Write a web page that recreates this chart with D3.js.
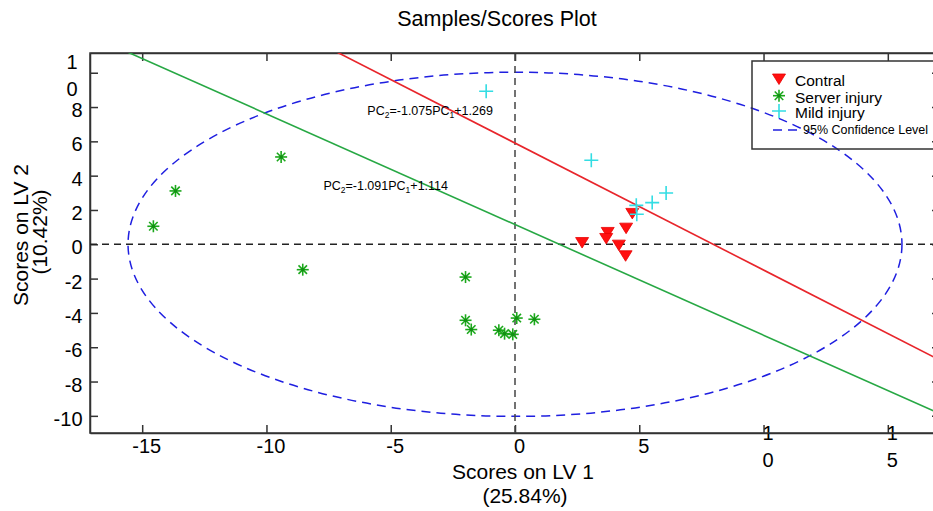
<!DOCTYPE html>
<html>
<head>
<meta charset="utf-8">
<script src="https://cdn.jsdelivr.net/npm/d3@7"></script>
<style>
  body { margin: 0; background: #fff; }
  text { font-family: "Liberation Sans", Arial, sans-serif; }
</style>
</head>
<body>
<div id="graph"></div>
<script>
// scores
var contralX = [2.70, 3.73, 3.67, 4.18, 4.45, 4.47, 4.72];
var contralY = [0.13, 0.72, 0.37, -0.02, -0.64, 0.97, 1.83];
var serverX = [-9.41, -13.66, -14.55, -8.54, -1.99, -1.99, -1.76, -0.65, -0.42, -0.09, 0.07, 0.78];
var serverY = [5.09, 3.11, 1.05, -1.48, -1.91, -4.43, -4.97, -5.01, -5.21, -5.25, -4.30, -4.37];
var mildX = [-1.16, 3.07, 4.88, 4.90, 5.52, 6.08];
var mildY = [8.92, 4.90, 2.27, 1.75, 2.43, 2.99];

var seriesNames = ["Contral", "Server injury", "Mild injury", "95% Confidence Level"];

// the two drawn regression lines (as they appear on the plot)
var lineSlopes = [-0.740, -0.645];
var lineIntercepts = [5.90, 1.15];
var lineLabels = [["PC", "2", "=-1.075PC", "1", "+1.269"], ["PC", "2", "=-1.091PC", "1", "+1.114"]];

// 95% ellipse
var ellipseCenter = [0, 0];
var ellipseRadii = [15.57, 10.03];

var xTickValues = [-15, -10, -5, 0, 5, 10, 15];
var xTickLabels = ["-15", "-10", "-5", "0", "5", "1\n0", "1\n5"];
var yTickValues = [-10, -8, -6, -4, -2, 0, 2, 4, 6, 8, 10];
var yTickLabels = ["-10", "-8", "-6", "-4", "-2", "0", "2", "4", "6", "8", "1\n0"];

var W = 933, H = 511;
var pLeft = 90, pRight = 940, pTop = 53, pBottom = 433;
var axisColor = "#333";

var x = d3.scaleLinear().domain([-17.1, 17.1]).range([pLeft, pRight]);
var y = d3.scaleLinear().domain([-11.0, 11.15]).range([pBottom, pTop]);

var svg = d3.select("#graph").append("svg")
  .attr("width", W)
  .attr("height", H);

svg.append("defs").append("clipPath").attr("id", "clip")
  .append("rect")
  .attr("x", pLeft).attr("y", pTop)
  .attr("width", pRight - pLeft).attr("height", pBottom - pTop);

// title
svg.append("text")
  .attr("x", 497).attr("y", 26)
  .attr("text-anchor", "middle")
  .attr("font-size", 21.5)
  .text("Samples/Scores Plot");

// axes
var gx = svg.append("g")
  .attr("transform", "translate(0," + pBottom + ")")
  .call(d3.axisBottom(x).tickValues(xTickValues).tickSize(-8).tickPadding(6).tickSizeOuter(0));
gx.selectAll(".tick text").each(function(d, i) {
  var t = d3.select(this), lines = xTickLabels[i].split("\n");
  t.text(null).attr("dy", null).attr("y", null).attr("font-size", 20).attr("fill", "#000");
  lines.forEach(function(s, k) {
    t.append("tspan").attr("x", 4).attr("y", 20 + (k - (lines.length - 1) / 2) * 27).text(s);
  });
});

var gy = svg.append("g")
  .attr("transform", "translate(" + pLeft + ",0)")
  .call(d3.axisLeft(y).tickValues(yTickValues).tickSize(-8).tickSizeOuter(0));
gy.selectAll(".tick text").each(function(d, i) {
  var t = d3.select(this), lines = yTickLabels[i].split("\n");
  t.text(null).attr("dy", null).attr("x", null).attr("font-size", 20).attr("fill", "#000");
  if (lines.length > 1) t.attr("text-anchor", "middle");
  lines.forEach(function(s, k) {
    t.append("tspan")
      .attr("x", lines.length > 1 ? -18 : -7.5)
      .attr("y", 9.5 + (k - (lines.length - 1) / 2) * 27)
      .text(s);
  });
});

svg.append("g")
  .attr("transform", "translate(0," + pTop + ")")
  .call(d3.axisTop(x).tickValues(xTickValues).tickSize(-8).tickFormat("").tickSizeOuter(0));
svg.append("g")
  .attr("transform", "translate(" + pRight + ",0)")
  .call(d3.axisRight(y).tickValues(yTickValues).tickSize(-8).tickFormat("").tickSizeOuter(0));

svg.selectAll(".domain, .tick line")
  .attr("stroke", axisColor)
  .attr("stroke-width", 1.5);

svg.append("rect")
  .attr("x", pLeft).attr("y", pTop)
  .attr("width", pRight - pLeft).attr("height", pBottom - pTop)
  .attr("fill", "none")
  .attr("stroke", axisColor)
  .attr("stroke-width", 1.5);

// axis titles
svg.append("text")
  .attr("x", 523).attr("y", 479)
  .attr("text-anchor", "middle").attr("font-size", 21)
  .text("Scores on LV 1");
svg.append("text")
  .attr("x", 525).attr("y", 503)
  .attr("text-anchor", "middle").attr("font-size", 21)
  .text("(25.84%)");
svg.append("text")
  .attr("transform", "translate(28,235) rotate(-90)")
  .attr("text-anchor", "middle").attr("font-size", 21)
  .text("Scores on LV 2");
svg.append("text")
  .attr("transform", "translate(47,232) rotate(-90)")
  .attr("text-anchor", "middle").attr("font-size", 21)
  .text("(10.42%)");

var plot = svg.append("g").attr("clip-path", "url(#clip)");

// confidence ellipse
plot.append("ellipse")
  .attr("cx", x(ellipseCenter[0]))
  .attr("cy", y(ellipseCenter[1]))
  .attr("rx", x(ellipseRadii[0]) - x(0))
  .attr("ry", y(0) - y(ellipseRadii[1]))
  .attr("fill", "none")
  .attr("stroke", "#1f1fe0")
  .attr("stroke-width", 1.5)
  .attr("stroke-dasharray", "9,6");

// zero lines
plot.append("line")
  .attr("x1", x.range()[0]).attr("x2", x.range()[1])
  .attr("y1", y(0)).attr("y2", y(0))
  .attr("stroke", "#222").attr("stroke-width", 1.5).attr("stroke-dasharray", "7,5");
plot.append("line")
  .attr("x1", x(0)).attr("x2", x(0))
  .attr("y1", y.range()[0]).attr("y2", y.range()[1])
  .attr("stroke", "#444").attr("stroke-width", 1.5).attr("stroke-dasharray", "7,5");

// fitted lines
var lineColors = ["#e8252b", "#27a844"];
var xd = x.domain();
lineSlopes.forEach(function(m, i) {
  plot.append("line")
    .attr("x1", x(xd[0])).attr("y1", y(m * xd[0] + lineIntercepts[i]))
    .attr("x2", x(xd[1])).attr("y2", y(m * xd[1] + lineIntercepts[i]))
    .attr("stroke", lineColors[i])
    .attr("stroke-width", 1.6);
});

// equation labels
var labelPos = [[-5.94, 7.52], [-7.71, 3.19]];
lineLabels.forEach(function(parts, i) {
  var t = svg.append("text")
    .attr("x", x(labelPos[i][0])).attr("y", y(labelPos[i][1]))
    .attr("font-size", 12.5);
  parts.forEach(function(p, k) {
    var ts = t.append("tspan").text(p);
    if (k % 2 == 1) ts.attr("font-size", 8.5).attr("dy", 3);
    else if (k > 0) ts.attr("dy", -3);
  });
});

// markers
function triangle(g) {
  g.append("path").attr("d", "M-6.5,-4.5L6.5,-4.5L0,6Z")
    .attr("fill", "#ff1010").attr("stroke", "#e80000").attr("stroke-width", 0.8);
}
function asterisk(g) {
  var r = 6, s = r * 0.7071;
  [[-r, 0, r, 0], [0, -r, 0, r], [-s, -s, s, s], [-s, s, s, -s]].forEach(function(l) {
    g.append("line").attr("x1", l[0]).attr("y1", l[1]).attr("x2", l[2]).attr("y2", l[3])
      .attr("stroke", "#1ca81c").attr("stroke-width", 1.6);
  });
  g.append("circle").attr("r", 1.8).attr("fill", "#129012");
}
function plus(g) {
  g.append("path").attr("d", "M-7,0H7M0,-7V7")
    .attr("fill", "none").attr("stroke", "#33dde3").attr("stroke-width", 1.6);
}

function draw_points(xs, ys, marker) {
  xs.forEach(function(v, i) {
    var g = plot.append("g").attr("transform", "translate(" + x(v) + "," + y(ys[i]) + ")");
    marker(g);
  });
}
draw_points(serverX, serverY, asterisk);
draw_points(contralX, contralY, triangle);
draw_points(mildX, mildY, plus);

// legend
var legend = svg.append("g");
legend.append("rect")
  .attr("x", 752).attr("y", 61)
  .attr("width", 200).attr("height", 88)
  .attr("fill", "none")
  .attr("stroke", axisColor).attr("stroke-width", 1.5);
var markers = [triangle, asterisk, plus];
var rowY = [78.5, 95.7, 111];
markers.forEach(function(mk, i) {
  var g = legend.append("g").attr("transform", "translate(779," + rowY[i] + ")");
  mk(g);
  legend.append("text")
    .attr("x", 795).attr("y", rowY[i] + 7)
    .attr("font-size", 15.5)
    .text(seriesNames[i]);
});
legend.append("line")
  .attr("x1", 773).attr("x2", 802).attr("y1", 130).attr("y2", 130)
  .attr("stroke", "#1f1fe0").attr("stroke-width", 1.5).attr("stroke-dasharray", "9,6");
legend.append("text")
  .attr("x", 803).attr("y", 133.5)
  .attr("font-size", 12.5)
  .text(seriesNames[3]);
</script>
</body>
</html>
